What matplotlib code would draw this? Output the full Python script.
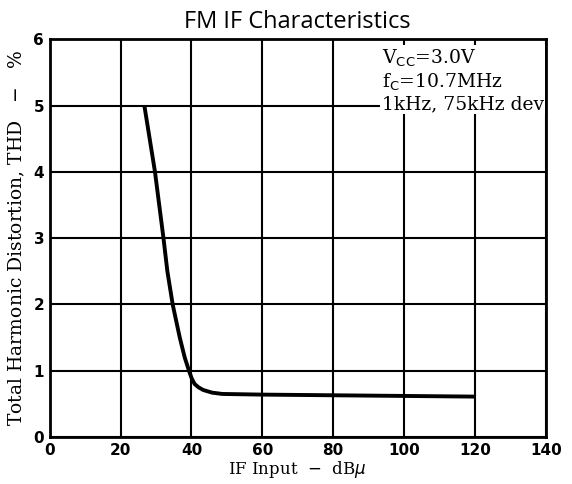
import numpy as np
import matplotlib
matplotlib.use("Agg")
import matplotlib.pyplot as plt

# THD curve (IF input dBu, THD %)
if_input = [26.7, 28.2, 29.7, 30.9, 32.1, 33.2, 34.7, 36.7, 38.1, 39.3, 40.1, 40.9, 42.0, 43.3, 45.8, 48.7, 60.0, 80.0, 100.0, 120.0]
thd = [5.0, 4.5, 4.0, 3.5, 3.0, 2.5, 2.0, 1.5, 1.2, 1.0, 0.88, 0.80, 0.75, 0.71, 0.67, 0.65, 0.64, 0.63, 0.62, 0.61]

x_ticks = [0, 20, 40, 60, 80, 100, 120, 140]
y_ticks = [0, 1, 2, 3, 4, 5, 6]

fig = plt.figure(figsize=(5.72, 4.84), dpi=100)
ax = fig.add_axes([0.087, 0.097, 0.867, 0.822])

ax.plot(if_input, thd, color="black", linewidth=2.8, solid_capstyle="butt", zorder=3)

ax.set_xlim(0, 140)
ax.set_ylim(0, 6)
ax.set_xticks(x_ticks)
ax.set_yticks(y_ticks)
ax.grid(True, color="black", linewidth=1.5)
ax.set_axisbelow(True)
ax.tick_params(length=0, pad=4, labelsize=11)
for lbl in ax.get_xticklabels() + ax.get_yticklabels():
    lbl.set_fontweight("bold")
for s in ax.spines.values():
    s.set_linewidth(2.0)
    s.set_zorder(5)

ax.set_xlabel(r"IF Input  $-$  dB$\mu$", family="DejaVu Serif", fontsize=12, labelpad=1)
ax.set_ylabel(r"Total Harmonic Distortion, THD   $-$   %", family="DejaVu Serif", fontsize=13.5, labelpad=5)
ax.set_title("FM IF Characteristics", family="Open Sans", fontsize=17, pad=8)

ax.text(0.669, 0.978, "V$_{\\mathrm{CC}}$=3.0V\nf$_{\\mathrm{C}}$=10.7MHz\n1kHz, 75kHz dev",
        transform=ax.transAxes, ha="left", va="top", family="DejaVu Serif", fontsize=13.5,
        linespacing=1.15, zorder=4,
        bbox=dict(facecolor="white", edgecolor="none", pad=1))

fig.savefig("out.png", dpi=100)
